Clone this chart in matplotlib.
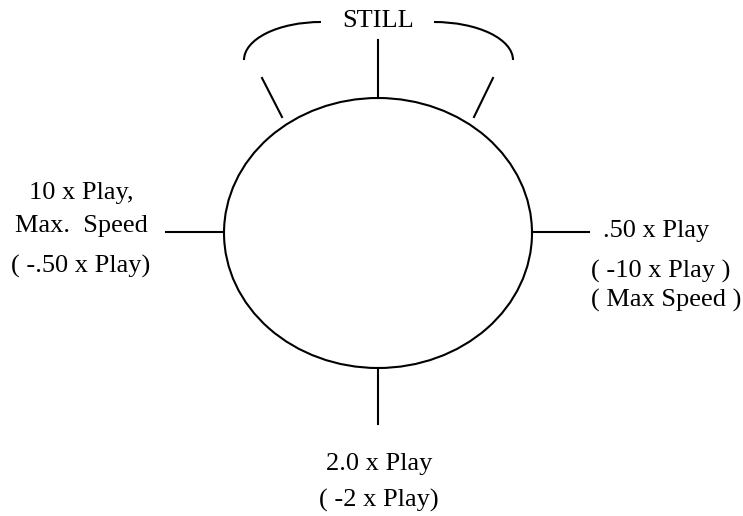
import matplotlib.pyplot as plt
from matplotlib.patches import Ellipse, Arc

plt.rcParams['font.family'] = ['Liberation Serif', 'DejaVu Serif']

# labels round the dial
top_label = "STILL"
left_labels = ["10 x Play,", "Max.  Speed", "( -.50 x Play)"]
right_labels = [".50 x Play", "( -10 x Play )", "( Max Speed )"]
bottom_labels = ["2.0 x Play", "( -2 x Play)"]

fig = plt.figure(figsize=(7.43, 5.16), dpi=100)
ax = fig.add_axes([0, 0, 1, 1])
ax.set_xlim(0, 743)
ax.set_ylim(516, 0)
ax.axis('off')

lw = 1.5
fs = 19

# dial
ax.add_patch(Ellipse((378, 233), 308, 270, fill=False, lw=lw, color='black'))

# ticks
ax.plot([378, 378], [40, 98], color='black', lw=lw)
ax.plot([262, 282], [78, 117], color='black', lw=lw)
ax.plot([493, 474], [78, 117], color='black', lw=lw)
ax.plot([166, 224], [232, 232], color='black', lw=lw)
ax.plot([532, 589], [232, 232], color='black', lw=lw)
ax.plot([378, 378], [368, 424], color='black', lw=lw)

# brackets round STILL
ax.add_patch(Arc((321, 60), 154, 76, theta1=180, theta2=270, lw=lw, color='black'))
ax.add_patch(Arc((434, 60), 158, 76, theta1=270, theta2=360, lw=lw, color='black'))

ax.text(378, 27, top_label, ha='center', va='baseline', fontsize=fs)

for txt, y in zip(left_labels, [199, 232, 273]):
    ax.text(81, y, txt, ha='center', va='baseline', fontsize=fs)

for txt, x, y in zip(right_labels, [603, 591, 591], [237, 278, 307]):
    ax.text(x, y, txt, ha='left', va='baseline', fontsize=fs)

for txt, y in zip(bottom_labels, [470, 507]):
    ax.text(379, y, txt, ha='center', va='baseline', fontsize=fs)

fig.savefig('out.png', dpi=100)
